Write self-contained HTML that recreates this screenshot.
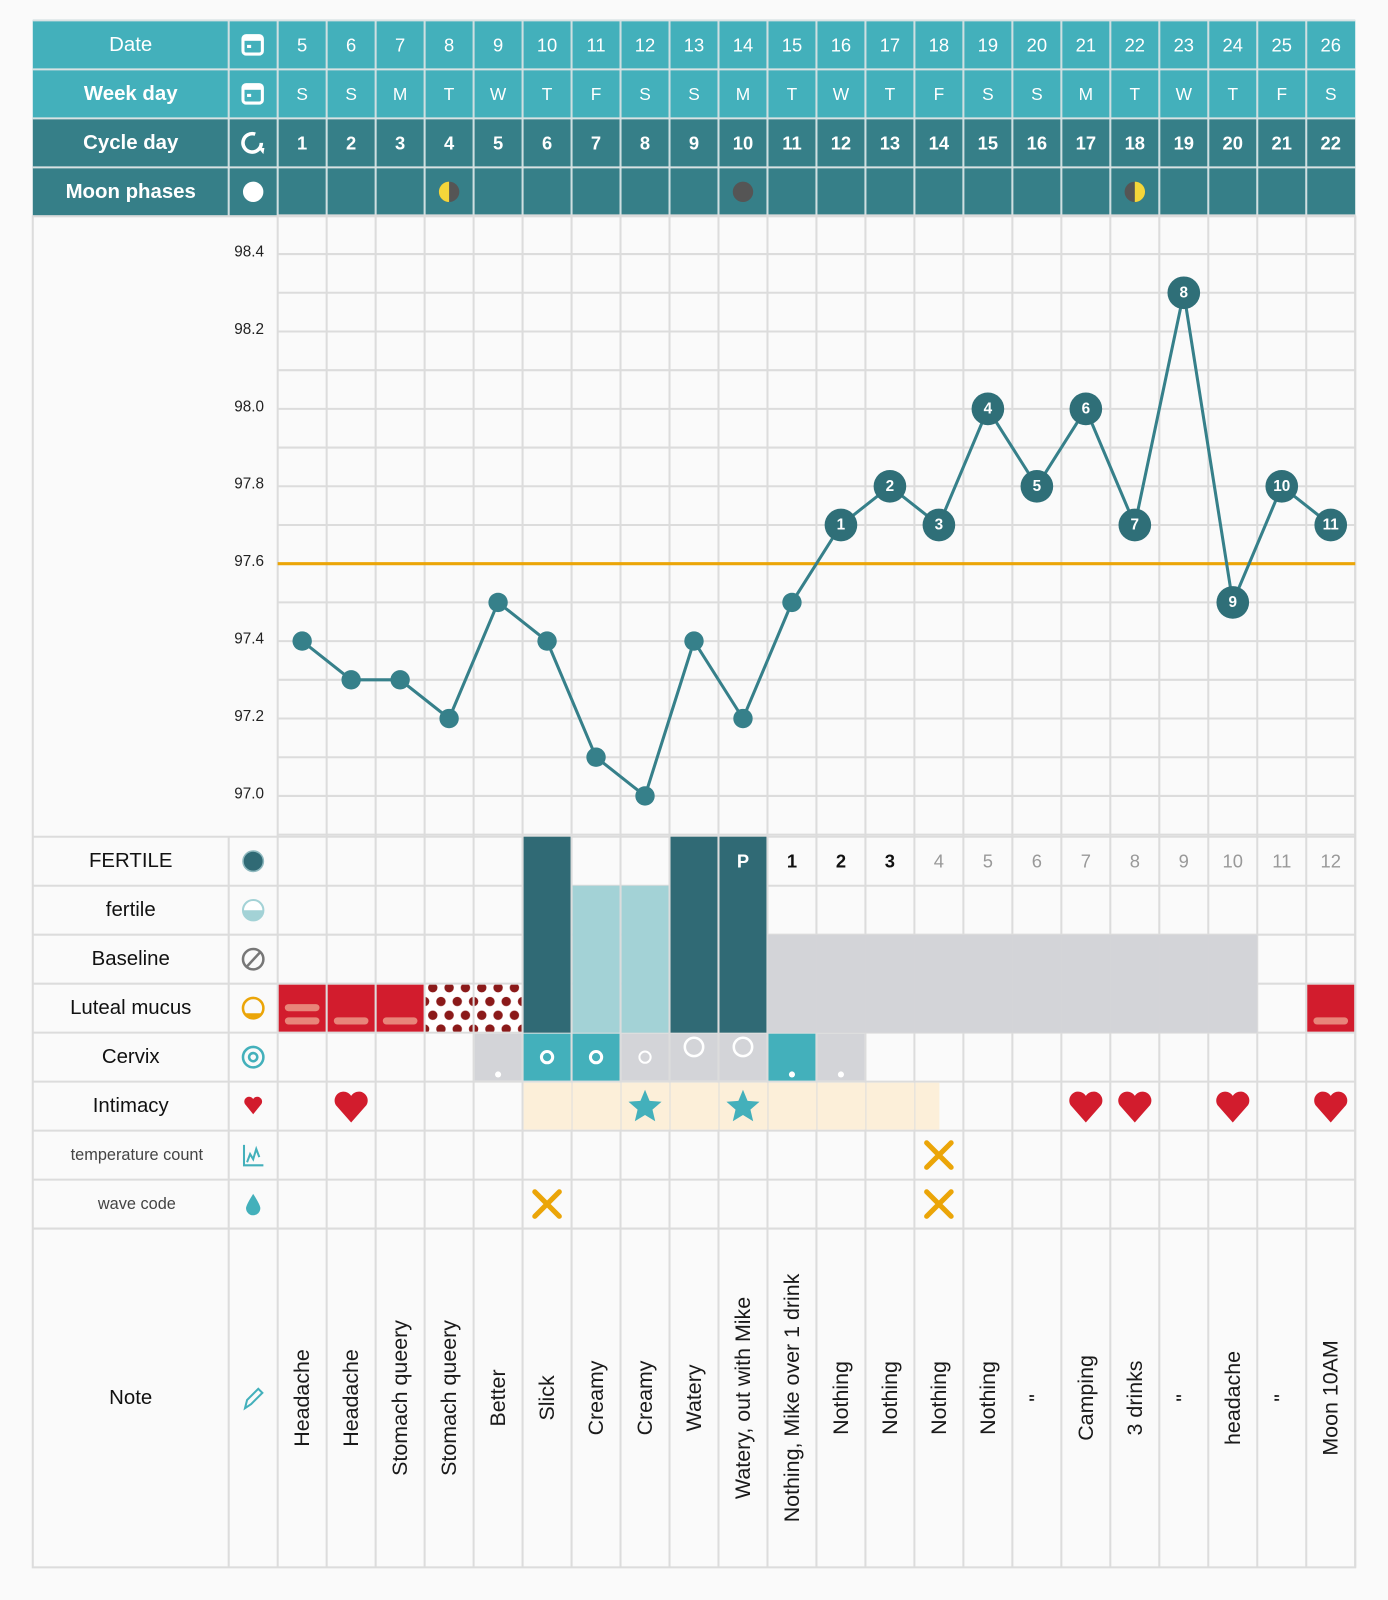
<!DOCTYPE html>
<html><head><meta charset="utf-8"><style>
html,body{margin:0;padding:0;background:#fafafa;}
svg{display:block;font-family:"Liberation Sans",sans-serif;}
</style></head><body>
<svg id="chart" width="1388" height="1600" viewBox="0 0 1360 1568" xmlns="http://www.w3.org/2000/svg">
<rect x="0" y="0" width="1360" height="1568" fill="#fafafa"/>
</svg>
<script>
const dates=[5,6,7,8,9,10,11,12,13,14,15,16,17,18,19,20,21,22,23,24,25,26];
const weekdays=["S","S","M","T","W","T","F","S","S","M","T","W","T","F","S","S","M","T","W","T","F","S"];
const cycleDays=[1,2,3,4,5,6,7,8,9,10,11,12,13,14,15,16,17,18,19,20,21,22];
const moons=["","","","first","","","","","","new","","","","","","","","last","","","",""];
const temps=[97.4,97.3,97.3,97.2,97.5,97.4,97.1,97.0,97.4,97.2,97.5,97.7,97.8,97.7,98.0,97.8,98.0,97.7,98.3,97.5,97.8,97.7];
const tempLabels=["","","","","","","","","","","","1","2","3","4","5","6","7","8","9","10","11"];
const yTicks=[97.0,97.2,97.4,97.6,97.8,98.0,98.2,98.4];
const coverline=97.6;
const fertileTop=["","","","","","F","","","F","P","1","2","3","4","5","6","7","8","9","10","11","12"];
const fertileKind=["","","","","","D","L","L","D","D","","","","","","","","","","","",""];
const baseline=[0,0,0,0,0,0,0,0,0,0,1,1,1,1,1,1,1,1,1,1,0,0];
const mucus=["2","1","1","dots","dots","","","","","","","","","","","","","","","","","1"];
const cervix=["","","","","gdot","tring","tring","gring","gbig","gbig","tdot","gdot","","","","","","","","","",""];
const intimacy=["","heart","","","","","","star","","star","","","","","","","heart","heart","","heart","","heart"];
const intimacyBg=[0,0,0,0,0,1,1,1,1,1,1,1,1,0.5,0,0,0,0,0,0,0,0];
const tempCount=[0,0,0,0,0,0,0,0,0,0,0,0,0,1,0,0,0,0,0,0,0,0];
const waveCode=[0,0,0,0,0,1,0,0,0,0,0,0,0,1,0,0,0,0,0,0,0,0];
const notes=["Headache","Headache","Stomach queery","Stomach queery","Better","Slick","Creamy","Creamy","Watery","Watery, out with Mike","Nothing, Mike over 1 drink","Nothing","Nothing","Nothing","Nothing","\"","Camping","3 drinks","\"","headache","\"","Moon 10AM"];

const svg=document.getElementById('chart');
const NS="http://www.w3.org/2000/svg";
const X0=272,CW=48,L=32,R=1328;
function colX(i){return X0+CW*i;}
function cx(i){return X0+CW*i+CW/2;}
function yS(v){return 780-(v-97.0)*379.3;}
function mk(tag,attrs,parent){const e=document.createElementNS(NS,tag);for(const k in attrs)e.setAttribute(k,attrs[k]);(parent||svg).appendChild(e);return e;}
function txt(s,x,y,size,fill,weight,parent){const t=mk('text',{x:x,y:y,'font-size':size,fill:fill,'font-weight':weight||'normal','text-anchor':'middle','dominant-baseline':'central'},parent);t.textContent=s;return t;}

const TEAL="#43b0bb",DTEAL="#367f88",GRID="#dcdcdc",DARK="#306a75",LIGHT="#a3d2d6",GREY="#d3d4d8",RED="#d21c2d",PINK="#e8857a",ORANGE="#eba508";

const hdr=[["Date",TEAL,"normal"],["Week day",TEAL,"bold"],["Cycle day",DTEAL,"bold"],["Moon phases",DTEAL,"bold"]];
hdr.forEach((h,r)=>{
  const y=20+48*r;
  const bg=mk('rect',{x:L,y:y,width:R-L,height:48,fill:h[1]});
  
  
  const lab=txt(h[0],128,y+24,20,"#fff",h[2]);
  
  
  for(let i=0;i<22;i++){
    const ln=mk('line',{x1:colX(i),y1:y,x2:colX(i),y2:y+48,stroke:"#cfdfe1",'stroke-width':2});
    
    
  }
  mk('line',{x1:224,y1:y,x2:224,y2:y+48,stroke:"#cfdfe1",'stroke-width':2});
  mk('line',{x1:L,y1:y,x2:R,y2:y,stroke:"#d8e2e3",'stroke-width':2});
  const g=mk('g',{});
  
  
  if(r<2){mk('rect',{x:238,y:y+15,width:19,height:18,rx:3,fill:"none",stroke:"#fff",'stroke-width':3},g);mk('rect',{x:238,y:y+15,width:19,height:5,fill:"#fff"},g);mk('rect',{x:242,y:y+24,width:4,height:3,fill:"#fff"},g);}
  else if(r==2){mk('path',{d:`M256 ${y+24} A9 9 0 1 1 250 ${y+15.5}`,fill:"none",stroke:"#fff",'stroke-width':3.5},g);mk('path',{d:`M253 ${y+29} l6 0 l-1 6 z`,fill:"#fff"},g);}
  else {mk('circle',{cx:248,cy:y+24,r:10,fill:"#fff"},g);}
});
mk('line',{x1:L,y1:212,x2:R,y2:212,stroke:GRID,'stroke-width':2});
for(let i=0;i<22;i++){
  const a=txt(String(dates[i]),cx(i),44,18,"#fff","normal");
  
  
  const b=txt(weekdays[i],cx(i),92,17,"#fff","normal");
  
  
  const c=txt(String(cycleDays[i]),cx(i),140,18,"#fff","bold");
  
  
  if(moons[i]){
    const g=mk('g',{});
    
    
    const y=188,x=cx(i);
    if(moons[i]=="new"){mk('circle',{cx:x,cy:y,r:10,fill:"#555"},g);}
    else{
      mk('circle',{cx:x,cy:y,r:10,fill:"#555"},g);
      const sweep=moons[i]=="first"?0:1;
      mk('path',{d:`M${x} ${y-10} A10 10 0 0 ${sweep} ${x} ${y+10} Z`,fill:"#f5d63a"},g);
    }
  }
}
mk('rect',{x:L,y:212,width:R-L,height:1324,fill:"#fafafa",stroke:GRID,'stroke-width':2});
for(let v=96.9;v<=98.51;v+=0.1){
  const y=yS(v);
  const ln=mk('line',{x1:X0,y1:y,x2:R,y2:y,stroke:GRID,'stroke-width':2});
  
  
}
for(let i=0;i<=22;i++){
  const ln=mk('line',{x1:colX(i),y1:212,x2:colX(i),y2:1536,stroke:GRID,'stroke-width':2});
  
  
}
yTicks.forEach(v=>{
  const t=txt(v.toFixed(1),244,yS(v)-2,15,"#222","normal");
  
  
});
const rows=[["FERTILE",20,"#111"],["fertile",20,"#111"],["Baseline",20,"#111"],["Luteal mucus",20,"#111"],["Cervix",20,"#111"],["Intimacy",20,"#111"],["temperature count",16,"#444"],["wave code",16,"#444"]];
rows.forEach((r,k)=>{
  const y=820+48*k;
  mk('line',{x1:L,y1:y,x2:R,y2:y,stroke:GRID,'stroke-width':2});
  const t=txt(r[0],k>=6?134:128,y+24,r[1],r[2],"normal");
  
  
});
mk('line',{x1:L,y1:1204,x2:R,y2:1204,stroke:GRID,'stroke-width':2});
mk('line',{x1:224,y1:820,x2:224,y2:1536,stroke:GRID,'stroke-width':2});
const nl=txt("Note",128,1370,20,"#111","normal");


const ic=mk('g',{});


mk('circle',{cx:248,cy:844,r:10,fill:DARK,stroke:"#8fb9bf",'stroke-width':1.5},ic);
mk('circle',{cx:248,cy:892,r:10,fill:"#fff",stroke:LIGHT,'stroke-width':2},ic);
mk('path',{d:"M238 892 A10 10 0 0 0 258 892 Z",fill:LIGHT},ic);
mk('circle',{cx:248,cy:940,r:10,fill:"none",stroke:"#777",'stroke-width':2.5},ic);
mk('line',{x1:242,y1:947,x2:255,y2:933,stroke:"#777",'stroke-width':2.5},ic);
mk('circle',{cx:248,cy:988,r:10,fill:"none",stroke:ORANGE,'stroke-width':2.5},ic);
mk('path',{d:"M240 993 A10 10 0 0 0 256 993 Z",fill:ORANGE},ic);
mk('circle',{cx:248,cy:1036,r:10,fill:"none",stroke:TEAL,'stroke-width':2.5},ic);
mk('circle',{cx:248,cy:1036,r:4,fill:"none",stroke:TEAL,'stroke-width':2.5},ic);
mk('path',{d:"M248 1092 L240 1082 A4.5 4.5 0 0 1 248 1077 A4.5 4.5 0 0 1 256 1082 Z",fill:RED},ic);
mk('path',{d:"M239 1122 V1142 H258 M242 1139 l3 -8 l3 5 l3 -10 l3 8",fill:"none",stroke:TEAL,'stroke-width':2},ic);
mk('path',{d:"M248 1170 Q241 1181 241 1184 A7 7 0 0 0 255 1184 Q255 1181 248 1170 Z",fill:TEAL},ic);
mk('path',{d:"M240 1380 L242 1372 L253 1361 L257 1365 L246 1376 Z",fill:"none",stroke:TEAL,'stroke-width':2},ic);

for(let i=0;i<22;i++){
  if(fertileKind[i]){
    const top=fertileKind[i]=="D"?820:868;
    const r=mk('rect',{x:colX(i)+1,y:top,width:CW-2,height:1012-top,fill:fertileKind[i]=="D"?DARK:LIGHT});
    
    
  }
  if(baseline[i]){
    const r=mk('rect',{x:colX(i),y:916,width:CW,height:96,fill:GREY});
    
    
  }
  const f=fertileTop[i];
  if(f&&f!="F"){
    const n=parseInt(f);
    const col=f=="P"?"#fff":(n<=3?"#111":"#999");
    const t=txt(f,cx(i),844,18,col,(f=="P"||n<=3)?"bold":"normal");
    
    
  }
}
const defs=mk('defs',{});
const pat=mk('pattern',{id:'dots',width:16,height:27,patternUnits:'userSpaceOnUse',x:272,y:964},defs);
mk('rect',{width:16,height:27,fill:"#fff"},pat);
mk('circle',{cx:8,cy:4,r:4.6,fill:"#8b1a1a"},pat);
mk('circle',{cx:0,cy:17.5,r:4.6,fill:"#8b1a1a"},pat);
mk('circle',{cx:16,cy:17.5,r:4.6,fill:"#8b1a1a"},pat);
mk('circle',{cx:8,cy:31,r:4.6,fill:"#8b1a1a"},pat);
for(let i=0;i<22;i++){
  const m=mucus[i];if(!m)continue;
  const x=colX(i)+1;
  if(m=="dots"){const r=mk('rect',{x:x,y:965,width:CW-2,height:46,fill:"url(#dots)"});continue;}
  const r=mk('rect',{x:x,y:965,width:CW-2,height:46,fill:RED});
  
  
  mk('rect',{x:x+6,y:997,width:CW-14,height:7,rx:3.5,fill:PINK});
  if(m=="2")mk('rect',{x:x+6,y:984,width:CW-14,height:7,rx:3.5,fill:PINK});
}
for(let i=0;i<22;i++){
  const c=cervix[i];if(!c)continue;
  const x=colX(i),X=cx(i);
  const r=mk('rect',{x:x+1,y:1013,width:CW-2,height:46,fill:c[0]=="t"?TEAL:GREY});
  
  
  if(c.endsWith("dot"))mk('circle',{cx:X,cy:1053,r:3,fill:"#fff"});
  else if(c=="tring")mk('circle',{cx:X,cy:1036,r:5.5,fill:"none",stroke:"#fff",'stroke-width':3});
  else if(c=="gring")mk('circle',{cx:X,cy:1036,r:5.5,fill:"none",stroke:"#fff",'stroke-width':2});
  else if(c=="gbig")mk('circle',{cx:X,cy:1026,r:9,fill:"none",stroke:"#fff",'stroke-width':2.5});
}
for(let i=0;i<22;i++){
  if(intimacyBg[i]){
    const r=mk('rect',{x:colX(i)+1,y:1061,width:(CW-1)*intimacyBg[i],height:46,fill:"#fcefd9"});
    
    
  }
}
function star(X,Y,R){let d="";for(let k=0;k<10;k++){const a=-Math.PI/2+k*Math.PI/5;const rr=k%2?R*0.45:R;d+=(k?"L":"M")+(X+rr*Math.cos(a)).toFixed(1)+" "+(Y+rr*Math.sin(a)).toFixed(1);}return d+"Z";}
for(let i=0;i<22;i++){
  const X=cx(i),Y=1084;
  if(intimacy[i]=="heart"){
    const h=mk('path',{d:`M${X} ${Y+16} L${X-15} ${Y-1} A7.8 7.8 0 0 1 ${X} ${Y-10} A7.8 7.8 0 0 1 ${X+15} ${Y-1} Z`,fill:RED});
    
    
  } else if(intimacy[i]=="star"){
    const s=mk('path',{d:star(X,Y+1,17),fill:TEAL});
    
    
  }
}
function cross(X,Y,name){const g=mk('g',{stroke:ORANGE,'stroke-width':5,'stroke-linecap':'round'});mk('line',{x1:X-12,y1:Y-12,x2:X+12,y2:Y+12},g);mk('line',{x1:X+12,y1:Y-12,x2:X-12,y2:Y+12},g);}
for(let i=0;i<22;i++){
  if(tempCount[i])cross(cx(i),1132,'temp-count-mark');
  if(waveCode[i])cross(cx(i),1180,'wave-code-mark');
}
for(let i=0;i<22;i++){
  const t=mk('text',{x:0,y:0,'font-size':21,fill:"#1a1a1a",'text-anchor':'middle','dominant-baseline':'central',transform:`translate(${cx(i)},1370) rotate(-90)`});
  t.textContent=notes[i];
  
  
}
const cl=mk('line',{x1:X0,y1:yS(coverline),x2:R,y2:yS(coverline),stroke:ORANGE,'stroke-width':3});


const pts=temps.map((v,i)=>cx(i)+","+yS(v)).join(" ");
const pl=mk('polyline',{points:pts,fill:"none",stroke:"#36808a",'stroke-width':3});


temps.forEach((v,i)=>{
  const big=tempLabels[i]!="";
  const c=mk('circle',{cx:cx(i),cy:yS(v),r:big?16:9.5,fill:big?"#2f6f78":"#36808a"});
  
  
  if(big){
    const t=txt(tempLabels[i],cx(i),yS(v),15,"#fff","bold");
    
    
  }
});
</script>
</body></html>
